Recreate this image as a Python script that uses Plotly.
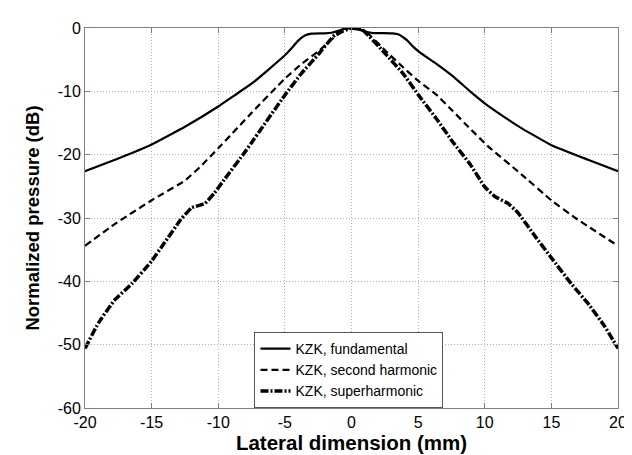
import plotly.graph_objects as go

# Fundamental (solid)
x_fund = [-20, -17.5, -15, -12.5, -10, -8.75, -7.5, -6.25, -5, -4.5, -4.0, -3.5, -3, -2, -1.5, -1.0, -0.5, 0,
          0.5, 1.1, 1.6, 2.5, 3.1, 3.5, 3.9, 4.3, 4.6, 5.1, 6.4, 7.6, 8.9, 10.25, 11.5, 12.75, 15, 17.75, 20]
y_fund = [-22.6, -20.6, -18.4, -15.6, -12.4, -10.6, -8.8, -6.6, -4.3, -3.2, -2.0, -1.2, -0.9, -0.85, -0.75, -0.45, -0.1, 0,
          -0.15, -0.6, -0.8, -0.8, -0.85, -1.0, -1.5, -2.2, -2.9, -3.8, -5.7, -7.6, -10.0, -12.3, -14.1, -15.8, -18.5, -20.8, -22.6]

# Second harmonic (dashed)
x_second = [-20, -17.8, -15, -12.5, -11.3, -10, -7.5, -5, -3.77, -2.5, -1.26, -0.4, 0,
            0.4, 1.1, 2.6, 3.87, 5.1, 6.4, 7.6, 8.9, 10.25, 12.75, 15, 16.8, 20]
y_second = [-34.4, -31.0, -27.2, -24.1, -21.8, -19.0, -13.4, -8.0, -5.7, -3.7, -1.4, -0.2, 0,
            -0.2, -0.6, -3.7, -6.2, -8.5, -10.6, -13.1, -15.9, -18.7, -23.1, -27.2, -30.0, -34.4]

# Superharmonic (dash-dot)
x_super = [-20, -19, -17.8, -16.5, -15, -14, -12.8, -12, -11, -10.3, -9.5, -8, -7.5, -5, -3.77, -2.5, -1.26, 0,
           0.86, 2.6, 3.87, 5.1, 6.4, 7.6, 8.9, 10, 10.75, 11.75, 12.5, 13.75, 15, 16.5, 17.75, 19, 20]
y_super = [-50.6, -46.6, -43.0, -40.4, -36.8, -33.8, -30.2, -28.4, -27.7, -26.1, -23.8, -19.6, -18.1, -10.6, -7.2, -4.2, -1.1, 0,
           -0.35, -4.2, -7.2, -10.8, -14.4, -18.0, -21.5, -25.1, -26.6, -27.7, -29.2, -32.8, -36.3, -40.4, -43.5, -47.1, -50.6]

x_ticks = [-20, -15, -10, -5, 0, 5, 10, 15, 20]
y_ticks = [0, -10, -20, -30, -40, -50, -60]

FONT = "Liberation Sans, Arial, sans-serif"

fig = go.Figure()
fig.add_trace(go.Scatter(x=x_fund, y=y_fund, mode="lines", name="KZK, fundamental",
                         line=dict(color="black", width=2.2, shape="spline", smoothing=0.3)))
fig.add_trace(go.Scatter(x=x_second, y=y_second, mode="lines", name="KZK, second harmonic",
                         line=dict(color="black", width=2.2, dash="7px,4px", shape="spline", smoothing=0.3)))
fig.add_trace(go.Scatter(x=x_super, y=y_super, mode="lines", name="KZK, superharmonic",
                         line=dict(color="black", width=3.5, dash="8px,2px,2px,2px", shape="spline", smoothing=0.3)))

axis_common = dict(
    showline=True, linecolor="#808080", linewidth=1, mirror="ticks",
    ticks="inside", ticklen=5, tickcolor="#808080",
    showgrid=True, gridcolor="#b0b0b0", griddash="1px,2px", gridwidth=1,
    zeroline=False,
    tickfont=dict(family=FONT, size=16, color="black"),
)

fig.update_xaxes(
    range=[-20, 20], tickvals=x_ticks, ticktext=[str(v) for v in x_ticks],
    title=dict(text="<b>Lateral dimension (mm)</b>", standoff=5,
               font=dict(family=FONT, size=20.5, color="black")),
    **axis_common)
fig.update_yaxes(
    range=[-60, 0], tickvals=y_ticks, ticktext=[str(v) for v in y_ticks],
    title=dict(text="<b>Normalized pressure (dB)</b>", standoff=13,
               font=dict(family=FONT, size=18.5, color="black")),
    **axis_common)

fig.update_layout(
    width=632, height=455,
    margin=dict(l=77, r=22, t=16, b=47),
    paper_bgcolor="white", plot_bgcolor="white",
    font=dict(family=FONT, color="black"),
    showlegend=True,
    legend=dict(x=0.318, y=0.0, xanchor="left", yanchor="bottom",
                bgcolor="white", bordercolor="#555555", borderwidth=1,
                font=dict(size=14, color="black"), tracegroupgap=0,
                itemwidth=30),
)

fig.write_html("out.html")
